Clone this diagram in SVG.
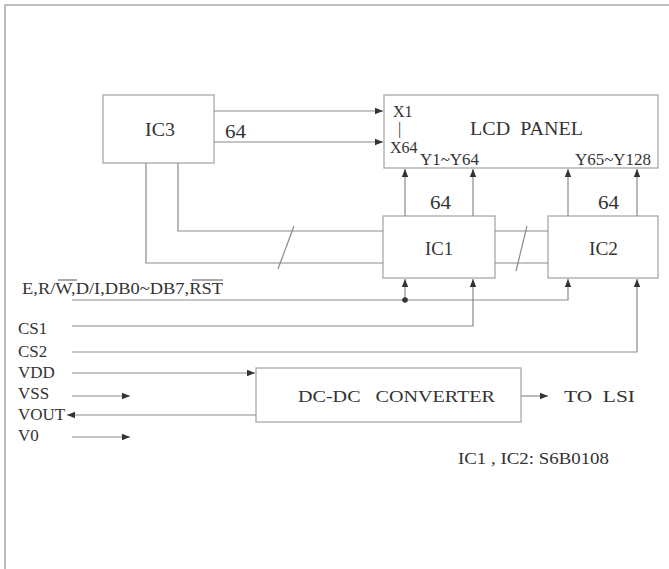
<svg xmlns="http://www.w3.org/2000/svg" width="669" height="569" viewBox="0 0 669 569">
<style>
.box{fill:#fff;stroke:#a8a8a8;stroke-width:1.3}
.ln{fill:none;stroke:#8a8a8a;stroke-width:1.2}
.t{font-family:'Liberation Serif','Times New Roman',serif;fill:#333;font-size:17px;white-space:pre}
.big{font-size:19px}
.sm{font-size:16px}
</style>
<defs>
<marker id="ah" viewBox="0 0 10 10" refX="10" refY="5" markerWidth="8" markerHeight="8" markerUnits="userSpaceOnUse" orient="auto">
<path d="M0,1 L10,5 L0,9 Z" fill="#333"/>
</marker>
</defs>
<rect width="669" height="569" fill="#fff"/>
<path d="M5,569 V5 H669" fill="none" stroke="#bdbdbd" stroke-width="2"/>

<g id="ic3"><rect class="box" x="103" y="95" width="111" height="68"/><text class="t big" x="145" y="136" textLength="30" lengthAdjust="spacingAndGlyphs">IC3</text></g>
<g id="lcd"><rect class="box" x="384" y="95" width="274" height="73"/>
<text class="t big" x="470" y="135" textLength="113" lengthAdjust="spacingAndGlyphs" xml:space="preserve">LCD  PANEL</text>
<text class="t sm" x="393" y="117">X1</text>
<text class="t sm" x="398" y="134">|</text>
<text class="t sm" x="390" y="153">X64</text>
<text class="t sm" x="420" y="165" textLength="59" lengthAdjust="spacingAndGlyphs">Y1~Y64</text>
<text class="t sm" x="575" y="165" textLength="76" lengthAdjust="spacingAndGlyphs">Y65~Y128</text>
</g>
<g id="ic1"><rect class="box" x="383" y="216" width="112" height="62"/><text class="t big" x="425" y="255" textLength="28" lengthAdjust="spacingAndGlyphs">IC1</text></g>
<g id="ic2"><rect class="box" x="548" y="216" width="110" height="62"/><text class="t big" x="589" y="255" textLength="29" lengthAdjust="spacingAndGlyphs">IC2</text></g>
<g id="dcdc"><rect class="box" x="256" y="368" width="265" height="54"/><text class="t" x="298" y="402" textLength="197" lengthAdjust="spacingAndGlyphs" xml:space="preserve">DC-DC   CONVERTER</text></g>

<g id="connectors">
<path class="ln" d="M214,111 H383" marker-end="url(#ah)"/>
<path class="ln" d="M214,142 H383" marker-end="url(#ah)"/>
<path class="ln" d="M178,163 V231 H383"/>
<path class="ln" d="M146,163 V263 H383"/>
<path class="ln" d="M294,226 L278,269"/>
<path class="ln" d="M495,231 H548 M495,263 H548"/>
<path class="ln" d="M527,226 L516,271"/>
<path class="ln" d="M405,216 V169" marker-end="url(#ah)"/>
<path class="ln" d="M473,216 V169" marker-end="url(#ah)"/>
<path class="ln" d="M568,216 V169" marker-end="url(#ah)"/>
<path class="ln" d="M637,216 V169" marker-end="url(#ah)"/>
<path class="ln" d="M72,300 H568 V279" marker-end="url(#ah)"/>
<path class="ln" d="M405,300 V279" marker-end="url(#ah)"/>
<circle cx="405" cy="300" r="2.8" fill="#333"/>
<path class="ln" d="M72,326 H473 V279" marker-end="url(#ah)"/>
<path class="ln" d="M72,352 H637 V279" marker-end="url(#ah)"/>
<path class="ln" d="M72,373 H255" marker-end="url(#ah)"/>
<path class="ln" d="M72,396 H130" marker-end="url(#ah)"/>
<path class="ln" d="M256,415 H67" marker-end="url(#ah)"/>
<path class="ln" d="M72,437 H130" marker-end="url(#ah)"/>
<path class="ln" d="M521,396 H548" marker-end="url(#ah)"/>
</g>

<g id="labels">
<text class="t big" x="225" y="138" textLength="21" lengthAdjust="spacingAndGlyphs">64</text>
<text class="t big" x="430" y="209" textLength="21" lengthAdjust="spacingAndGlyphs">64</text>
<text class="t big" x="598" y="209" textLength="21" lengthAdjust="spacingAndGlyphs">64</text>
<text class="t" x="22" y="294" textLength="201" lengthAdjust="spacingAndGlyphs">E,R/W,D/I,DB0~DB7,RST</text>
<path d="M58,280 H77 M192,280 H223" stroke="#555" stroke-width="1"/>
<text class="t" x="18" y="334">CS1</text>
<text class="t" x="18" y="357">CS2</text>
<text class="t" x="18" y="378">VDD</text>
<text class="t" x="18" y="399">VSS</text>
<text class="t" x="18" y="420">VOUT</text>
<text class="t" x="18" y="441">V0</text>
<text class="t" x="564" y="402" textLength="71" lengthAdjust="spacingAndGlyphs" xml:space="preserve">TO  LSI</text>
<text class="t" x="458" y="464" textLength="151" lengthAdjust="spacingAndGlyphs">IC1 , IC2: S6B0108</text>
</g>
</svg>
